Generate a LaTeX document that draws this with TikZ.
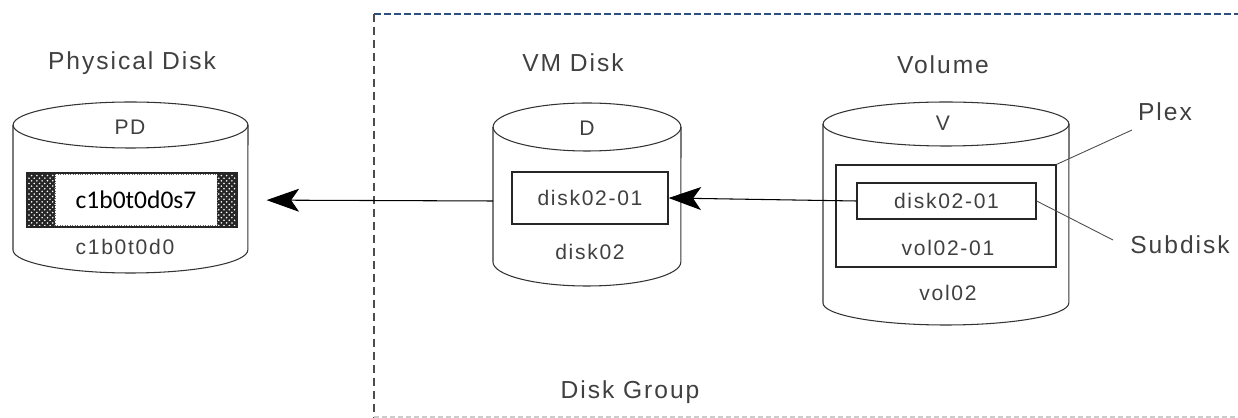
\documentclass[tikz,border=0pt]{standalone}
\usepackage{fontspec}
\setmainfont{Liberation Sans}[LetterSpace=8]
\newfontfamily\slicefont{Carlito}
\usepackage{xcolor}
\usetikzlibrary{arrows.meta,patterns}
\definecolor{groupblue}{HTML}{2E4F80}

\begin{document}
\begin{tikzpicture}[x=0.02cm, y=0.02cm,
  cyl/.style={draw=black!80, line width=0.6pt},
  lbl/.style={font=\fontsize{14}{16}\selectfont, text=black!75},
  txt/.style={font=\fontsize{12}{14}\selectfont, text=black!75},
  bx/.style={draw=black!85, line width=0.7pt, inner sep=0},
  arr/.style={-{Stealth[length=6.5mm, width=4.6mm, inset=1.6mm]}, line width=0.6pt},
  lead/.style={draw=black!70, line width=0.5pt}
]
\useasboundingbox (0,0) rectangle (1238,-418);
% disk group frame
\draw[groupblue, line width=1pt, dash pattern=on 0.14cm off 0.06cm] (374,-14) -- (1238,-14);
\draw[black!70, line width=0.8pt, dash pattern=on 0.16cm off 0.1cm] (374,-14) -- (374,-418);
\draw[black!20, line width=0.6pt, dash pattern=on 0.1cm off 0.06cm] (374,-417) -- (1238,-417);
\node[lbl] (dg) at (630,-392) {Disk Group};
% cylinders
\foreach \l/\r/\t/\b/\ry in {13/248/125/250/23, 493/681/127/262/24, 823/1069/124/303/22} {
  \draw[cyl] (\l,-\t) -- (\l,-\b)
    arc[start angle=180, end angle=360, x radius={(\r-\l)*0.01cm}, y radius={\ry*0.02cm}]
    -- (\r,-\t);
  \draw[cyl] ({(\l+\r)/2},-\t) ellipse [x radius={(\r-\l)*0.01cm}, y radius={\ry*0.02cm}];
}
% physical disk
\node[lbl] (pdlbl) at (132,-63) {Physical Disk};
\node[txt] (pd) at (130,-127) {PD};
\fill[black!85] (27,-173) rectangle (55,-227);
\fill[black!85] (217,-173) rectangle (237,-227);
\fill[pattern=crosshatch dots, pattern color=white] (27,-173) rectangle (55,-227);
\fill[pattern=crosshatch dots, pattern color=white] (217,-173) rectangle (237,-227);
\node[bx, minimum width=4.2cm, minimum height=1.08cm] (pdbar) at (132,-200) {};
\node[draw=black!60, line width=0.4pt, densely dotted, fill=white, minimum width=3.24cm, minimum height=1.02cm,
  inner sep=0, font=\slicefont\fontsize{14.5}{16}\selectfont] (slice) at (136,-200) {c1b0t0d0s7};
\node[txt] (pdname) at (125,-247) {c1b0t0d0};
% vm disk
\node[lbl] (vmlbl) at (573,-63) {VM Disk};
\node[txt] (d) at (587,-128) {D};
\node[bx, minimum width=3.12cm, minimum height=1.04cm, txt] (dsub) at (590,-198) {disk02-01};
\node[txt] (dname) at (590,-252) {disk02};
\coordinate (dleft) at (493,-201);
% volume
\node[lbl] (vollbl) at (943,-65) {Volume};
\node[txt] (v) at (943,-123) {V};
\node[bx, minimum width=4.4cm, minimum height=2.04cm] (plex) at (946,-216) {};
\node[bx, minimum width=3.58cm, minimum height=0.72cm, txt] (vsub) at (946.5,-201) {disk02-01\hspace{0.6cm}};
\node[txt] (plexname) at (948,-248) {vol02-01};
\node[txt] (volname) at (948,-293) {vol02};
\node[lbl] (plexlbl) at (1165,-112) {Plex};
\node[lbl] (sublbl) at (1180,-245) {Subdisk};
\draw[lead] (plex.north east) -- (1132,-130) coordinate (plexend);
\draw[lead] (vsub.east) -- (1113,-240) coordinate (subend);
% mappings
\draw[arr] (vsub.west) -- (dsub.east);
\draw[arr, shorten >=0.58cm] (dleft) -- (pdbar.east);
\end{tikzpicture}
\end{document}
